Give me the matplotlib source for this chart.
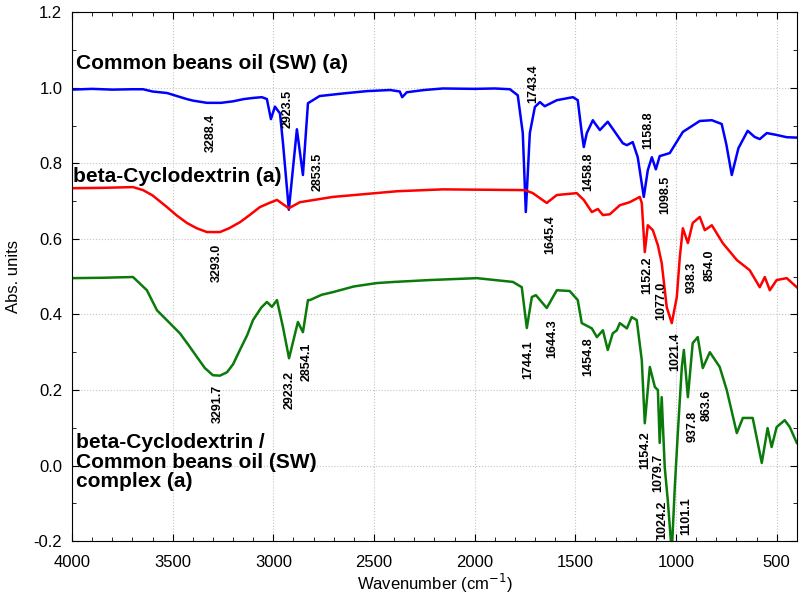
import numpy as np
import matplotlib
matplotlib.use("Agg")
import matplotlib.pyplot as plt
from matplotlib.ticker import MultipleLocator

plt.rcParams['font.family'] = ['Liberation Sans', 'DejaVu Sans']
plt.rcParams['axes.unicode_minus'] = False

# Common beans oil (SW) (a)
wn_oil = np.array([4000, 3900, 3800, 3700, 3647, 3600, 3528, 3430, 3400, 3330, 3260, 3200, 3146, 3100,
                   3057, 3032, 3012, 2992, 2967, 2952, 2923, 2883, 2853, 2828, 2770, 2650, 2535, 2420,
                   2372, 2360, 2337, 2250, 2158, 2000, 1900, 1825, 1786, 1761, 1746, 1726, 1701, 1676,
                   1652, 1592, 1512, 1488, 1468, 1458, 1443, 1413, 1403, 1378, 1339, 1264, 1244, 1215,
                   1190, 1160, 1140, 1120, 1100, 1081, 1031, 966, 882, 822, 773, 750, 723, 690, 644,
                   610, 584, 549, 500, 450, 400])
abs_oil = np.array([0.995, 0.997, 0.995, 0.996, 0.996, 0.990, 0.986, 0.970, 0.966, 0.960, 0.960, 0.964,
                    0.970, 0.973, 0.975, 0.970, 0.917, 0.950, 0.932, 0.853, 0.677, 0.890, 0.769, 0.959,
                    0.978, 0.985, 0.991, 0.994, 0.990, 0.975, 0.988, 0.994, 0.998, 0.997, 0.998, 0.996,
                    0.980, 0.880, 0.671, 0.880, 0.949, 0.962, 0.951, 0.967, 0.975, 0.967, 0.880, 0.843,
                    0.880, 0.914, 0.906, 0.888, 0.910, 0.853, 0.848, 0.856, 0.816, 0.711, 0.782, 0.816,
                    0.784, 0.819, 0.827, 0.883, 0.912, 0.914, 0.904, 0.850, 0.769, 0.840, 0.886, 0.870,
                    0.864, 0.880, 0.875, 0.869, 0.868])

# beta-Cyclodextrin (a)
wn_cd = np.array([4000, 3850, 3697, 3647, 3600, 3528, 3480, 3429, 3380, 3330, 3265, 3220, 3166, 3120,
                  3067, 3020, 2982, 2923, 2868, 2704, 2386, 2158, 1751, 1711, 1642, 1592, 1493, 1458,
                  1418, 1388, 1363, 1329, 1279, 1230, 1180, 1170, 1155, 1140, 1115, 1090, 1071, 1046,
                  1021, 996, 981, 966, 941, 917, 882, 857, 822, 768, 698, 634, 584, 559, 534, 500,
                  450, 400])
abs_cd = np.array([0.734, 0.735, 0.737, 0.729, 0.715, 0.684, 0.662, 0.642, 0.628, 0.618, 0.618, 0.628,
                   0.644, 0.662, 0.684, 0.695, 0.703, 0.681, 0.697, 0.711, 0.726, 0.731, 0.729, 0.721,
                   0.695, 0.716, 0.721, 0.703, 0.671, 0.679, 0.663, 0.665, 0.689, 0.697, 0.711, 0.695,
                   0.565, 0.636, 0.623, 0.583, 0.536, 0.419, 0.377, 0.446, 0.552, 0.628, 0.589, 0.642,
                   0.658, 0.623, 0.636, 0.589, 0.544, 0.517, 0.472, 0.499, 0.464, 0.491, 0.496, 0.472])

# beta-Cyclodextrin / Common beans oil (SW) complex (a)
wn_cx = np.array([4000, 3850, 3697, 3628, 3578, 3520, 3464, 3420, 3379, 3340, 3300, 3265, 3230, 3200,
                  3166, 3130, 3101, 3060, 3032, 3007, 2982, 2952, 2922, 2878, 2853, 2828, 2818, 2760,
                  2704, 2600, 2486, 2400, 2222, 1989, 1810, 1766, 1741, 1716, 1696, 1642, 1592, 1528,
                  1488, 1468, 1418, 1393, 1363, 1339, 1314, 1294, 1279, 1244, 1220, 1195, 1170, 1155,
                  1130, 1105, 1090, 1081, 1071, 1056, 1041, 1021, 1006, 991, 971, 961, 941, 917, 892,
                  867, 832, 783, 748, 698, 668, 619, 574, 545, 525, 500, 460, 435, 400])
abs_cx = np.array([0.496, 0.497, 0.499, 0.464, 0.411, 0.380, 0.350, 0.318, 0.287, 0.258, 0.239, 0.238,
                   0.247, 0.268, 0.306, 0.345, 0.385, 0.418, 0.433, 0.420, 0.438, 0.366, 0.284, 0.380,
                   0.353, 0.438, 0.438, 0.452, 0.459, 0.474, 0.483, 0.486, 0.491, 0.496, 0.486, 0.472,
                   0.364, 0.446, 0.451, 0.417, 0.464, 0.462, 0.438, 0.377, 0.363, 0.340, 0.358, 0.306,
                   0.350, 0.358, 0.377, 0.363, 0.393, 0.385, 0.279, 0.112, 0.261, 0.208, 0.200, 0.060,
                   0.181, -0.004, -0.091, -0.230, -0.057, 0.086, 0.261, 0.306, 0.181, 0.324, 0.340,
                   0.258, 0.300, 0.261, 0.200, 0.086, 0.126, 0.126, 0.007, 0.099, 0.049, 0.102, 0.120,
                   0.102, 0.060])

# peak labels: text, x, y
peak_txt = ["3288.4", "2923.5", "2853.5", "1743.4", "1458.8", "1158.8", "1098.5",
            "3293.0", "1645.4", "1152.2", "1077.0", "938.3", "854.0", "1021.4",
            "3291.7", "2923.2", "2854.1", "1744.1", "1644.3", "1454.8", "1154.2", "1079.7",
            "1024.2", "1101.1", "937.8", "863.6"]
peak_x = [3310, 2928, 2778, 1711, 1438, 1140, 1051,
          3280, 1627, 1145, 1071, 922, 832, 1006,
          3275, 2918, 2833, 1736, 1617, 1438, 1155, 1086,
          1066, 947, 917, 847]
peak_y = [0.880, 0.943, 0.777, 1.012, 0.777, 0.888, 0.716,
          0.536, 0.610, 0.504, 0.435, 0.499, 0.530, 0.300,
          0.163, 0.200, 0.274, 0.279, 0.337, 0.287, 0.041, -0.020,
          -0.144, -0.134, 0.104, 0.160]

fig = plt.figure(figsize=(8, 6.08), dpi=100)
ax = fig.add_axes([0.09, 0.11, 0.906, 0.87])

ax.plot(wn_oil, abs_oil, color="#0000ff", lw=1.8)
ax.plot(wn_cd, abs_cd, color="#ff0000", lw=1.8)
ax.plot(wn_cx, abs_cx, color="#0a7a0a", lw=1.8)

ax.text(3980, 1.065, "Common beans oil (SW) (a)", fontsize=15, fontweight="bold", va="center")
ax.text(3995, 0.766, "beta-Cyclodextrin (a)", fontsize=15, fontweight="bold", va="center")
ax.text(3980, 0.009, "beta-Cyclodextrin /\nCommon beans oil (SW)\ncomplex (a)", fontsize=15,
        fontweight="bold", va="center", linespacing=1.05)

for t, x, y in zip(peak_txt, peak_x, peak_y):
    ax.text(x, y, t, rotation=90, fontsize=9, fontweight="bold", ha="center", va="center")

ax.set_xlim(4000, 400)
ax.set_ylim(-0.2, 1.2)
ax.xaxis.set_major_locator(MultipleLocator(500))
ax.xaxis.set_minor_locator(MultipleLocator(100))
ax.yaxis.set_major_locator(MultipleLocator(0.2))
ax.yaxis.set_minor_locator(MultipleLocator(0.1))
ax.tick_params(which="both", direction="in", top=True, right=True, labelsize=12)
ax.tick_params(which="major", length=5)
ax.tick_params(which="minor", length=3)
ax.tick_params(axis="x", which="major", pad=10)
ax.tick_params(axis="y", which="major", pad=7)
ax.grid(True, linestyle=":", color="#c4c4c4", lw=0.8)

ax.set_xlabel("Wavenumber (cm$^{-1}$)", fontsize=12)
ax.set_ylabel("Abs. units", fontsize=12)
ax.xaxis.set_label_coords(0.5, -0.058)
ax.yaxis.set_label_coords(-0.07, 0.5)

fig.savefig("out.png", dpi=100)
